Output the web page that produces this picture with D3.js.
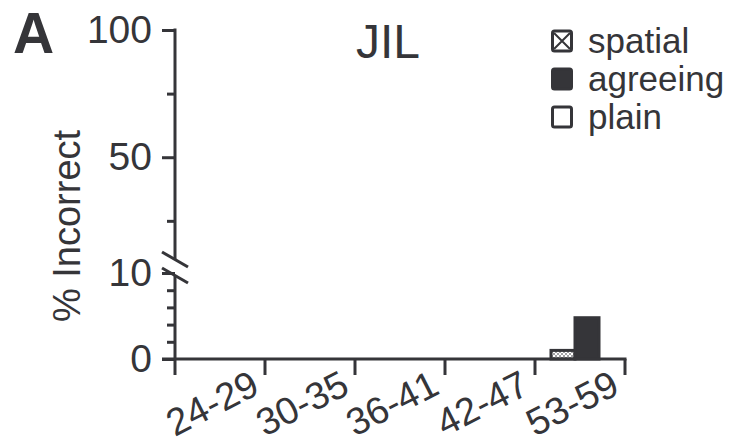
<!DOCTYPE html>
<html>
<head>
<meta charset="utf-8">
<script src="https://cdn.jsdelivr.net/npm/d3@7"></script>
<style>
  body { margin: 0; background: #fff; }
  text { font-family: "Liberation Sans", Arial, sans-serif; fill: #353539; }
</style>
</head>
<body>
<svg id="chart" width="729" height="438"></svg>
<script>
// age groups and % incorrect per sign type (JIL)
var ageGroups = ["24-29", "30-35", "36-41", "42-47", "53-59"];
var seriesNames = ["spatial", "agreeing", "plain"];
var spatial = [0, 0, 0, 0, 1.0];
var agreeing = [0, 0, 0, 0, 4.8];
var plain = [0, 0, 0, 0, 0];
var upperTicks = [25, 50, 75, 100];   // 25/75 are minor
var lowerTicks = [0, 2, 4, 6, 8, 10]; // only 0/10 labelled

var ink = "#353539";
var svg = d3.select("#chart");
var axisX = 175;

var x = d3.scaleBand().domain(ageGroups).range([175, 625]);
var x1 = d3.scaleBand().domain(seriesNames).range([16, 88]);
var yLow = d3.scaleLinear().domain([0, 10]).range([359, 273]); // below the break
var yHigh = d3.scaleLinear().domain([10, 100]).range([259, 30]); // above the break

// hatch for spatial bars
var defs = svg.append("defs");
var pat = defs.append("pattern").attr("id", "hatch")
    .attr("patternUnits", "userSpaceOnUse").attr("width", 4).attr("height", 4);
pat.append("rect").attr("width", 4).attr("height", 4).attr("fill", "#fff");
pat.append("path").attr("d", "M0,0L4,4M4,0L0,4")
    .attr("stroke", "#8a8a8e").attr("stroke-width", 0.8);

var fills = { spatial: "url(#hatch)", agreeing: ink, plain: "#fff" };
var values = { spatial: spatial, agreeing: agreeing, plain: plain };

// bars
var rows = [];
ageGroups.forEach(function(g, i) {
    seriesNames.forEach(function(s) {
        rows.push({ group: g, series: s, value: values[s][i] });
    });
});
svg.append("g").selectAll("rect")
    .data(rows.filter(function(d) { return d.value > 0; }))
    .enter().append("rect")
    .attr("x", function(d) { return x(d.group) + x1(d.series); })
    .attr("width", x1.bandwidth())
    .attr("y", function(d) { return yLow(d.value); })
    .attr("height", function(d) { return yLow(0) - yLow(d.value); })
    .attr("fill", function(d) { return fills[d.series]; })
    .attr("stroke", ink).attr("stroke-width", 3);

// y axis, upper part
var gUp = svg.append("g").attr("transform", "translate(" + axisX + ",0)")
    .call(d3.axisLeft(yHigh).tickValues(upperTicks).tickSize(13).tickSizeOuter(0).tickPadding(10));
gUp.selectAll(".tick line").attr("x2", function(d) { return d % 50 ? -8 : -13; });
gUp.selectAll(".tick text").text(function(d) { return d % 50 ? "" : d; });

// y axis, lower part
var gLow = svg.append("g").attr("transform", "translate(" + axisX + ",0)")
    .call(d3.axisLeft(yLow).tickValues(lowerTicks).tickSize(13).tickSizeOuter(0).tickPadding(10));
gLow.selectAll(".tick line").attr("x2", function(d) { return d % 10 ? -8 : -13; });
gLow.selectAll(".tick text").text(function(d) { return d % 10 ? "" : d; });

[gUp, gLow].forEach(function(g) {
    g.select(".domain").remove();
    g.selectAll("line").attr("stroke", ink).attr("stroke-width", 3);
    g.selectAll("text").attr("font-size", 39).attr("fill", ink);
});

// axis lines
svg.append("line").attr("x1", axisX).attr("x2", axisX)
    .attr("y1", yHigh(100) - 1.5).attr("y2", yHigh(10))
    .attr("stroke", ink).attr("stroke-width", 3);
svg.append("line").attr("x1", axisX).attr("x2", axisX)
    .attr("y1", yLow(10) + 3).attr("y2", yLow(0) + 16)
    .attr("stroke", ink).attr("stroke-width", 3);

// break marks
[252, 268].forEach(function(yb) {
    svg.append("line").attr("x1", axisX - 13).attr("y1", yb)
        .attr("x2", axisX + 13).attr("y2", yb + 15)
        .attr("stroke", ink).attr("stroke-width", 3);
});

// x axis
var xEnd = x(ageGroups[ageGroups.length - 1]) + x.bandwidth();
svg.append("line").attr("x1", axisX - 13).attr("x2", xEnd + 1.5)
    .attr("y1", yLow(0)).attr("y2", yLow(0))
    .attr("stroke", ink).attr("stroke-width", 3);
var edges = ageGroups.slice(1).map(function(g) { return x(g); }).concat([xEnd]);
svg.append("g").selectAll("line").data(edges).enter().append("line")
    .attr("x1", function(d) { return d; }).attr("x2", function(d) { return d; })
    .attr("y1", yLow(0)).attr("y2", yLow(0) + 16)
    .attr("stroke", ink).attr("stroke-width", 3);
svg.append("g").selectAll("text").data(ageGroups).enter().append("text")
    .attr("transform", function(d) {
        return "translate(" + (x(d) + x.bandwidth() / 2 - 8) + ",403) rotate(-27)";
    })
    .attr("text-anchor", "middle").attr("dy", "0.35em")
    .attr("font-size", 38)
    .text(function(d) { return d; });

// y label
svg.append("text")
    .attr("transform", "translate(67,226) rotate(-90)")
    .attr("text-anchor", "middle").attr("dy", "0.35em")
    .attr("font-size", 38)
    .text("% Incorrect");

// title and panel letter
svg.append("text").attr("x", 388).attr("y", 58).attr("text-anchor", "middle")
    .attr("font-size", 48).text("JIL");
svg.append("text").attr("x", 13).attr("y", 53).attr("font-size", 57)
    .attr("font-weight", "bold").text("A");

// legend
var legendY = [41, 79, 117];
var leg = svg.append("g").selectAll("g").data(seriesNames).enter().append("g")
    .attr("transform", function(d, i) { return "translate(551," + legendY[i] + ")"; });
leg.append("rect").attr("x", 1.5).attr("y", -10).attr("width", 19).attr("height", 20)
    .attr("rx", 2)
    .attr("fill", function(d) { return d === "agreeing" ? ink : "#fff"; })
    .attr("stroke", ink).attr("stroke-width", 3);
leg.filter(function(d) { return d === "spatial"; }).append("path")
    .attr("d", "M3,-8L19,8M19,-8L3,8")
    .attr("stroke", ink).attr("stroke-width", 2);
leg.append("text").attr("x", 37).attr("y", 12).attr("font-size", 35)
    .text(function(d) { return d; });
</script>
</body>
</html>
